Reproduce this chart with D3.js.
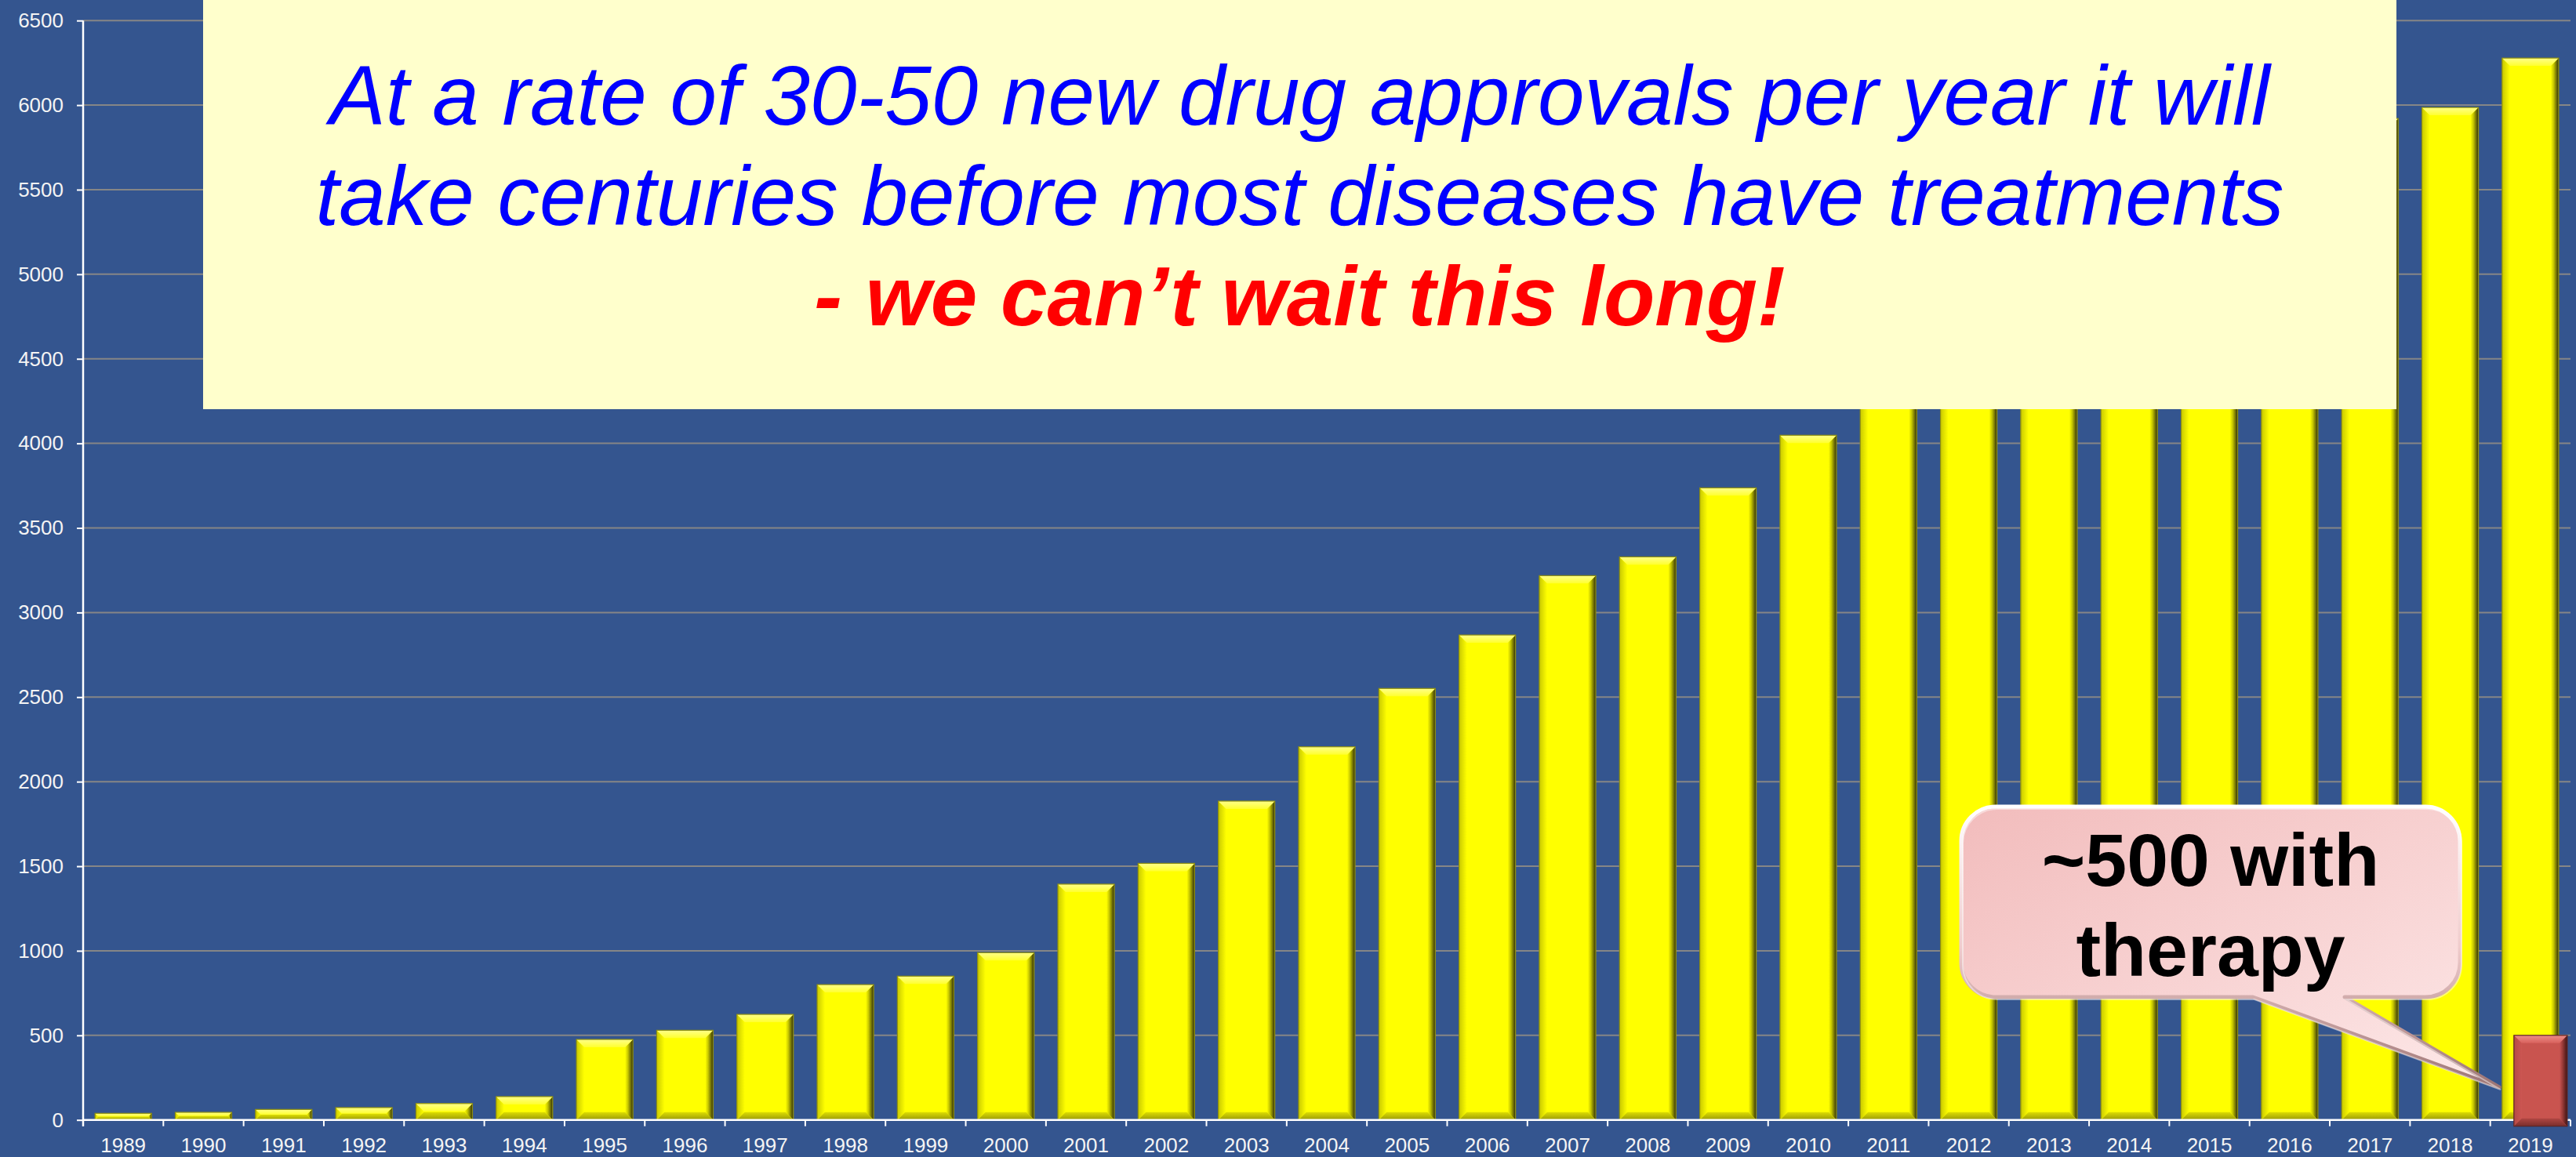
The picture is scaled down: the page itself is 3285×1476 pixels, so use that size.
<!DOCTYPE html>
<html>
<head>
<meta charset="utf-8">
<script src="https://cdnjs.cloudflare.com/ajax/libs/d3/7.8.5/d3.min.js"></script>
<style>
  html, body { margin: 0; padding: 0; background: #34558f; }
  svg { display: block; }
</style>
</head>
<body>
<script>
// Years on the category axis
const years = ["1989","1990","1991","1992","1993","1994","1995","1996","1997","1998",
  "1999","2000","2001","2002","2003","2004","2005","2006","2007","2008","2009","2010",
  "2011","2012","2013","2014","2015","2016","2017","2018","2019"];

// Cumulative number of diseases per year
const diseaseCounts = [39,45,62,73,97,138,476,530,624,800,850,989,1394,1517,1885,2206,
  2551,2867,3218,3329,3737,4048,4350,4600,4900,5150,5400,5650,5921,5986,6278];

// Diseases that have a therapy (highlighted bar)
const therapyYears = ["2019"];
const therapyCounts = [500];

// Value-axis ticks
const yTicks = [0,500,1000,1500,2000,2500,3000,3500,4000,4500,5000,5500,6000,6500];

// Texts
const headlineLines = [
  "At a rate of 30-50 new drug approvals per year it will",
  "take centuries before most diseases have treatments"
];
const headlineEmphasis = "- we can\u2019t wait this long!";
const calloutLines = ["~500 with", "therapy"];

const W = 3285, H = 1476;
const plot = { left: 106, right: 3278, top: 26.2, bottom: 1428.7 };

const svg = d3.select("body").append("svg")
  .attr("width", W).attr("height", H);

svg.append("rect").attr("width", W).attr("height", H).attr("fill", "#34558f");

const defs = svg.append("defs");
function grad(id, x2, y2, stops) {
  const g = defs.append("linearGradient").attr("id", id)
    .attr("x1", 0).attr("y1", 0).attr("x2", x2).attr("y2", y2);
  stops.forEach(s => g.append("stop").attr("offset", s[0]).attr("stop-color", s[1]));
}
// bevel gradients – yellow
grad("yTop", 0, 1, [[0, "#ffff8a"], [1, "#ffff2e"]]);
grad("yBot", 0, 1, [[0, "#dede00"], [1, "#9a9a08"]]);
grad("yLeft", 1, 0, [[0, "#c9c900"], [1, "#ffff00"]]);
grad("yRight", 1, 0, [[0, "#ffff00"], [0.35, "#c8c800"], [1, "#2e2e08"]]);
// bevel gradients – red
grad("rTop", 0, 1, [[0, "#ee8d88"], [1, "#d8615c"]]);
grad("rBot", 0, 1, [[0, "#b04743"], [1, "#7a2e2c"]]);
grad("rLeft", 1, 0, [[0, "#b54a46"], [1, "#cc5652"]]);
grad("rRight", 1, 0, [[0, "#cc5652"], [0.4, "#9a3b38"], [1, "#3d1414"]]);
// callout
grad("calloutFill", 1, 1, [[0, "#f2bcbc"], [0.55, "#f8d4d4"], [1, "#fde9e9"]]);
grad("calloutEdge", 0, 1, [[0, "#ffffff"], [0.5, "#f0cccc"], [1, "#9c7474"]]);

const x = d3.scaleBand().domain(years)
  .range([plot.left, plot.right])
  .paddingInner(0.296).paddingOuter(0.148);
const y = d3.scaleLinear().domain([0, 6500]).range([plot.bottom, plot.top]);

// Horizontal gridlines
svg.append("g").selectAll("line").data(yTicks.filter(d => d > 0)).join("line")
  .attr("x1", plot.left).attr("x2", plot.right)
  .attr("y1", d => y(d)).attr("y2", d => y(d))
  .attr("stroke", "#868686").attr("stroke-width", 2);

// Bevelled bar drawing
function bevelBar(g, bx, by, bw, bh, pal, face, outline) {
  const b = Math.min(10, bh / 2);
  const bg = g.append("g");
  bg.append("rect").attr("x", bx).attr("y", by).attr("width", bw).attr("height", bh)
    .attr("fill", face);
  const pts = {
    top: [[bx, by], [bx + bw, by], [bx + bw - b, by + b], [bx + b, by + b]],
    bot: [[bx, by + bh], [bx + bw, by + bh], [bx + bw - b, by + bh - b], [bx + b, by + bh - b]],
    left: [[bx, by], [bx + b, by + b], [bx + b, by + bh - b], [bx, by + bh]],
    right: [[bx + bw, by], [bx + bw - b, by + b], [bx + bw - b, by + bh - b], [bx + bw, by + bh]]
  };
  bg.append("polygon").attr("points", pts.left.join(" ")).attr("fill", `url(#${pal}Left)`);
  bg.append("polygon").attr("points", pts.right.join(" ")).attr("fill", `url(#${pal}Right)`);
  bg.append("polygon").attr("points", pts.top.join(" ")).attr("fill", `url(#${pal}Top)`);
  bg.append("polygon").attr("points", pts.bot.join(" ")).attr("fill", `url(#${pal}Bot)`);
  bg.append("rect").attr("x", bx).attr("y", by).attr("width", bw).attr("height", bh)
    .attr("fill", "none").attr("stroke", outline).attr("stroke-width", 1.2);
}

const barsG = svg.append("g");
years.forEach((yr, i) => {
  const v = diseaseCounts[i];
  bevelBar(barsG, x(yr), y(v), x.bandwidth(), y(0) - y(v), "y", "#ffff00", "#8e8e10");
});

// Axes
const yAxis = d3.axisLeft(y).tickValues(yTicks).tickSize(8).tickPadding(17)
  .tickFormat(d3.format("d"));
const yg = svg.append("g").attr("transform", `translate(${plot.left},0)`).call(yAxis);
yg.select(".domain").remove();
yg.selectAll(".tick line").attr("stroke", "#ffffff").attr("stroke-width", 2);
yg.selectAll("text").attr("fill", "#f4f4f4")
  .style("font-family", "'Liberation Sans', Arial, sans-serif").style("font-size", "26px");
svg.append("line").attr("x1", plot.left).attr("x2", plot.left)
  .attr("y1", plot.top).attr("y2", plot.bottom + 8)
  .attr("stroke", "#ffffff").attr("stroke-width", 2.5);

const xAxis = d3.axisBottom(x).tickSize(0).tickPadding(22.8);
const xg = svg.append("g").attr("transform", `translate(0,${plot.bottom})`).call(xAxis);
xg.select(".domain").remove();
xg.selectAll("text").attr("fill", "#f4f4f4")
  .style("font-family", "'Liberation Sans', Arial, sans-serif").style("font-size", "26px");
svg.append("line").attr("x1", plot.left).attr("x2", plot.right)
  .attr("y1", plot.bottom).attr("y2", plot.bottom)
  .attr("stroke", "#ffffff").attr("stroke-width", 2.5);
// category boundary ticks
const bounds = years.map(d => x(d) - x.step() * x.paddingOuter()).concat([plot.right]);
svg.append("g").selectAll("line").data(bounds).join("line")
  .attr("x1", d => d).attr("x2", d => d)
  .attr("y1", plot.bottom).attr("y2", plot.bottom + 8)
  .attr("stroke", "#ffffff").attr("stroke-width", 2);

// Highlighted bar for diseases with therapy
therapyYears.forEach((yr, i) => {
  const v = therapyCounts[i];
  const bx = x(yr) + 15, by = y(v);
  bevelBar(svg, bx, by, x.bandwidth() - 4, y(0) + 8 - by, "r", "#c9544f", "#5c2422");
});

// Headline panel
const panel = { x: 259, y: 0, w: 2797, h: 522 };
svg.append("rect").attr("x", panel.x).attr("y", panel.y)
  .attr("width", panel.w).attr("height", panel.h).attr("fill", "#ffffcc");
const cx = panel.x + panel.w / 2;
const head = svg.append("g")
  .style("font-family", "'Liberation Sans', Arial, sans-serif")
  .style("font-size", "107px").style("font-style", "italic")
  .attr("text-anchor", "middle");
headlineLines.forEach((t, i) => {
  head.append("text").attr("x", cx).attr("y", 159 + i * 128).attr("fill", "#0000ff").text(t);
});
head.append("text").attr("x", cx).attr("y", 415).attr("fill", "#ff0000")
  .style("font-weight", "bold").text(headlineEmphasis);

// Callout bubble
const c = { L: 2501, R: 3137, T: 1029, B: 1272, r: 44 };
const tail = { x1: 2873, x2: 2990, tx: 3187, ty: 1387 };
const p = d3.path();
p.moveTo(c.L + c.r, c.T);
p.lineTo(c.R - c.r, c.T);
p.arcTo(c.R, c.T, c.R, c.T + c.r, c.r);
p.lineTo(c.R, c.B - c.r);
p.arcTo(c.R, c.B, c.R - c.r, c.B, c.r);
p.lineTo(tail.x2, c.B);
p.lineTo(tail.tx, tail.ty);
p.lineTo(tail.x1, c.B);
p.lineTo(c.L + c.r, c.B);
p.arcTo(c.L, c.B, c.L, c.B - c.r, c.r);
p.lineTo(c.L, c.T + c.r);
p.arcTo(c.L, c.T, c.L + c.r, c.T, c.r);
p.closePath();

svg.append("path").attr("d", p.toString())
  .attr("fill", "url(#calloutFill)")
  .attr("stroke", "url(#calloutEdge)").attr("stroke-width", 5)
  .attr("stroke-linejoin", "round");
svg.append("path").attr("d", p.toString())
  .attr("fill", "none").attr("stroke", "#ffffff").attr("stroke-opacity", 0.45)
  .attr("stroke-width", 2).attr("transform", "translate(2,3)");

const ct = svg.append("g")
  .style("font-family", "'Liberation Sans', Arial, sans-serif")
  .style("font-size", "95px").style("font-weight", "bold")
  .attr("text-anchor", "middle");
calloutLines.forEach((t, i) => {
  ct.append("text").attr("x", (c.L + c.R) / 2).attr("y", 1130 + i * 115)
    .attr("fill", "#000000").text(t);
});
</script>
</body>
</html>
